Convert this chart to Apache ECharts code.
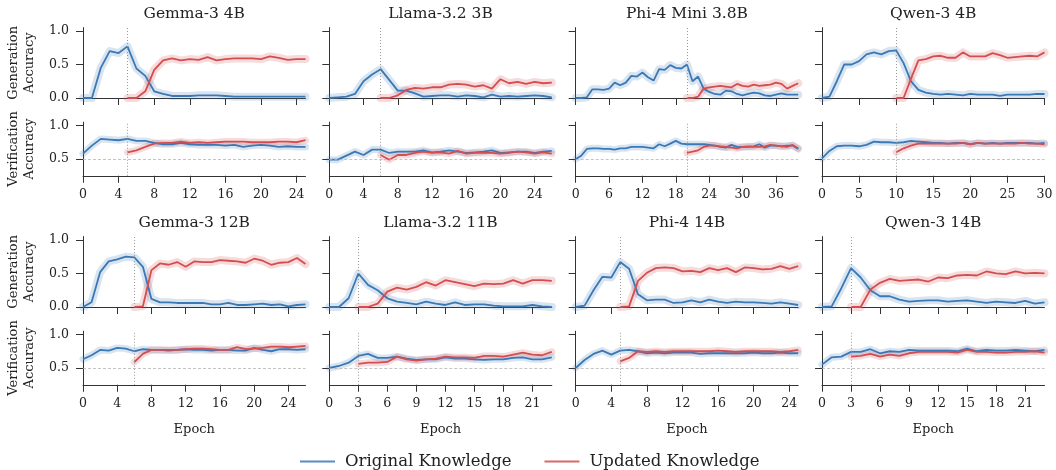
<!DOCTYPE html>
<html><head><meta charset="utf-8">
<script src="https://cdn.jsdelivr.net/npm/echarts@6/dist/echarts.min.js"></script>
<style>html,body{margin:0;padding:0;background:#fff}#c{width:1056px;height:470px}</style>
</head><body><div id="c"></div>
<script>
// ---------------- data ----------------
const panelTitles = ['Gemma-3 4B','Llama-3.2 3B','Phi-4 Mini 3.8B','Qwen-3 4B','Gemma-3 12B','Llama-3.2 11B','Phi-4 14B','Qwen-3 14B'];
const xMax = [25, 26, 40, 30, 26, 23, 25, 23];
const xInterval = [4, 4, 6, 5, 4, 3, 4, 3];
const switchEpoch = [5, 6, 20, 10, 6, 3, 5, 3];
const xTicks = [
  [0,4,8,12,16,20,24],
  [0,4,8,12,16,20,24],
  [0,6,12,18,24,30,36],
  [0,5,10,15,20,25,30],
  [0,4,8,12,16,20,24],
  [0,3,6,9,12,15,18,21],
  [0,4,8,12,16,20,24],
  [0,3,6,9,12,15,18,21]
];
const genYTicks = [0, 0.5, 1.0];
const verYTicks = [0.5, 1.0];
const chanceLevel = 0.5;

// Gemma-3 4B
const gemma4bGenOrig = [0,0,0.45,0.70,0.67,0.77,0.44,0.33,0.10,0.06,0.03,0.03,0.03,0.04,0.04,0.04,0.03,0.02,0.02,0.02,0.02,0.02,0.02,0.02,0.02,0.02];
const gemma4bGenUpd  = [0,0,0.10,0.42,0.56,0.59,0.56,0.58,0.57,0.61,0.56,0.58,0.59,0.59,0.59,0.58,0.62,0.60,0.57,0.58,0.58];
const gemma4bVerOrig = [0.58,0.70,0.80,0.79,0.78,0.80,0.77,0.77,0.74,0.72,0.72,0.74,0.72,0.71,0.71,0.71,0.70,0.71,0.68,0.70,0.71,0.70,0.68,0.69,0.68,0.68];
const gemma4bVerUpd  = [0.60,0.63,0.68,0.73,0.74,0.74,0.76,0.74,0.75,0.74,0.75,0.76,0.76,0.76,0.75,0.75,0.75,0.76,0.76,0.75,0.78];
// Llama-3.2 3B
const llama3bGenOrig = [0,0.01,0.02,0.06,0.25,0.35,0.43,0.27,0.11,0.11,0.07,0.02,0.03,0.04,0.04,0.02,0.04,0.03,0.01,0.05,0.02,0.03,0.02,0.03,0.04,0.03,0.01];
const llama3bGenUpd  = [0,0,0.04,0.12,0.15,0.14,0.16,0.16,0.20,0.21,0.20,0.17,0.19,0.14,0.28,0.22,0.24,0.21,0.24,0.22,0.23];
const llama3bVerOrig = [0.49,0.49,0.55,0.61,0.56,0.64,0.64,0.59,0.61,0.61,0.61,0.63,0.60,0.61,0.63,0.61,0.59,0.60,0.61,0.63,0.59,0.60,0.61,0.61,0.59,0.61,0.62];
const llama3bVerUpd  = [0.56,0.49,0.56,0.56,0.59,0.61,0.59,0.60,0.58,0.62,0.58,0.59,0.59,0.59,0.58,0.59,0.61,0.60,0.58,0.60,0.58];
// Phi-4 Mini 3.8B
const phiMiniGenOrig = [0,0,0.01,0.13,0.13,0.12,0.14,0.23,0.19,0.23,0.33,0.32,0.38,0.31,0.26,0.43,0.42,0.49,0.45,0.44,0.50,0.25,0.32,0.14,0.09,0.06,0.05,0.11,0.10,0.06,0.04,0.06,0.08,0.07,0.04,0.03,0.05,0.07,0.05,0.05,0.05];
const phiMiniGenUpd  = [0,0,0.02,0.14,0.16,0.17,0.18,0.17,0.16,0.21,0.18,0.17,0.20,0.18,0.19,0.20,0.23,0.21,0.14,0.18,0.22];
const phiMiniVerOrig = [0.50,0.55,0.65,0.66,0.66,0.65,0.65,0.64,0.66,0.66,0.68,0.68,0.68,0.67,0.66,0.72,0.69,0.73,0.77,0.73,0.72,0.72,0.72,0.72,0.71,0.70,0.68,0.67,0.71,0.68,0.68,0.68,0.69,0.72,0.67,0.70,0.70,0.69,0.70,0.70,0.65];
const phiMiniVerUpd  = [0.59,0.61,0.63,0.68,0.70,0.70,0.69,0.68,0.67,0.66,0.68,0.69,0.68,0.68,0.69,0.71,0.70,0.69,0.68,0.71,0.66];
// Qwen-3 4B
const qwen4bGenOrig = [0,0.02,0.25,0.50,0.50,0.55,0.65,0.68,0.65,0.70,0.71,0.52,0.25,0.12,0.08,0.06,0.05,0.06,0.05,0.04,0.06,0.05,0.05,0.05,0.03,0.05,0.05,0.05,0.05,0.06,0.06];
const qwen4bGenUpd  = [0,0,0.29,0.56,0.58,0.62,0.63,0.60,0.60,0.68,0.62,0.62,0.62,0.67,0.64,0.60,0.61,0.62,0.63,0.62,0.68];
const qwen4bVerOrig = [0.51,0.62,0.69,0.70,0.70,0.69,0.71,0.76,0.75,0.75,0.74,0.75,0.77,0.76,0.75,0.74,0.74,0.73,0.74,0.74,0.72,0.74,0.73,0.74,0.73,0.74,0.74,0.74,0.74,0.73,0.74];
const qwen4bVerUpd  = [0.60,0.66,0.70,0.73,0.73,0.73,0.73,0.73,0.73,0.74,0.72,0.74,0.73,0.73,0.73,0.73,0.73,0.74,0.73,0.73,0.72];
// Gemma-3 12B
const gemma12bGenOrig = [0,0.07,0.52,0.68,0.71,0.75,0.74,0.60,0.12,0.07,0.07,0.06,0.06,0.06,0.06,0.04,0.04,0.06,0.03,0.03,0.04,0.05,0.03,0.04,0.01,0.03,0.04];
const gemma12bGenUpd  = [0,0.01,0.55,0.65,0.63,0.67,0.60,0.68,0.67,0.67,0.70,0.69,0.68,0.66,0.72,0.69,0.63,0.66,0.67,0.73,0.64];
const gemma12bVerOrig = [0.63,0.69,0.77,0.76,0.80,0.79,0.75,0.78,0.77,0.77,0.76,0.77,0.78,0.77,0.77,0.76,0.77,0.77,0.76,0.76,0.80,0.77,0.75,0.78,0.78,0.77,0.78];
const gemma12bVerUpd  = [0.59,0.71,0.77,0.77,0.77,0.77,0.78,0.79,0.79,0.78,0.77,0.77,0.81,0.78,0.79,0.80,0.82,0.82,0.81,0.82,0.83];
// Llama-3.2 11B
const llama11bGenOrig = [0,0,0.13,0.50,0.33,0.25,0.13,0.08,0.06,0.04,0.08,0.05,0.03,0.07,0.03,0.04,0.04,0.02,0.01,0.01,0.01,0.03,0.01,0.00];
const llama11bGenUpd  = [0,0,0.05,0.23,0.29,0.26,0.30,0.37,0.32,0.40,0.37,0.34,0.31,0.35,0.34,0.35,0.40,0.35,0.40,0.40,0.39];
const llama11bVerOrig = [0.50,0.53,0.58,0.68,0.71,0.65,0.65,0.67,0.64,0.62,0.63,0.63,0.66,0.64,0.64,0.63,0.62,0.63,0.63,0.65,0.66,0.63,0.63,0.66];
const llama11bVerUpd  = [0.56,0.58,0.58,0.59,0.67,0.63,0.61,0.63,0.64,0.67,0.66,0.66,0.65,0.68,0.68,0.67,0.70,0.73,0.70,0.69,0.74];
// Phi-4 14B
const phi14bGenOrig = [0,0.02,0.25,0.45,0.44,0.67,0.57,0.19,0.10,0.11,0.11,0.06,0.07,0.10,0.07,0.11,0.08,0.06,0.08,0.07,0.07,0.06,0.05,0.07,0.05,0.03];
const phi14bGenUpd  = [0,0.01,0.39,0.51,0.58,0.59,0.58,0.53,0.54,0.52,0.58,0.55,0.58,0.52,0.59,0.58,0.56,0.57,0.61,0.57,0.61];
const phi14bVerOrig = [0.50,0.62,0.71,0.76,0.70,0.76,0.77,0.75,0.72,0.73,0.72,0.73,0.73,0.73,0.71,0.72,0.72,0.72,0.72,0.72,0.73,0.72,0.72,0.73,0.72,0.72];
const phi14bVerUpd  = [0.60,0.65,0.75,0.74,0.75,0.74,0.75,0.75,0.75,0.75,0.75,0.76,0.75,0.74,0.75,0.75,0.75,0.75,0.74,0.75,0.77];
// Qwen-3 14B
const qwen14bGenOrig = [0,0.01,0.28,0.58,0.44,0.25,0.16,0.16,0.11,0.08,0.09,0.10,0.10,0.08,0.09,0.10,0.08,0.06,0.08,0.07,0.06,0.09,0.05,0.07];
const qwen14bGenUpd  = [0,0,0.26,0.36,0.42,0.39,0.40,0.41,0.38,0.44,0.43,0.47,0.48,0.47,0.53,0.50,0.49,0.53,0.50,0.51,0.50];
const qwen14bVerOrig = [0.55,0.66,0.67,0.74,0.74,0.78,0.72,0.75,0.74,0.77,0.76,0.76,0.76,0.76,0.75,0.79,0.75,0.77,0.76,0.76,0.77,0.76,0.75,0.77];
const qwen14bVerUpd  = [0.67,0.68,0.71,0.67,0.70,0.68,0.72,0.74,0.74,0.74,0.74,0.73,0.77,0.74,0.74,0.73,0.73,0.74,0.74,0.75,0.73];

const genOrig = [gemma4bGenOrig, llama3bGenOrig, phiMiniGenOrig, qwen4bGenOrig, gemma12bGenOrig, llama11bGenOrig, phi14bGenOrig, qwen14bGenOrig];
const genUpd  = [gemma4bGenUpd, llama3bGenUpd, phiMiniGenUpd, qwen4bGenUpd, gemma12bGenUpd, llama11bGenUpd, phi14bGenUpd, qwen14bGenUpd];
const verOrig = [gemma4bVerOrig, llama3bVerOrig, phiMiniVerOrig, qwen4bVerOrig, gemma12bVerOrig, llama11bVerOrig, phi14bVerOrig, qwen14bVerOrig];
const verUpd  = [gemma4bVerUpd, llama3bVerUpd, phiMiniVerUpd, qwen4bVerUpd, gemma12bVerUpd, llama11bVerUpd, phi14bVerUpd, qwen14bVerUpd];

// ---------------- layout / style ----------------
const FONT = 'DejaVu Serif';
const BLUE = '#3a78b6', RED = '#d44d4f', INK = '#222';
const colLeft = [83, 329.3, 575.7, 822];
const plotW = 222.5;
const genTop = [27.6, 236.6], genH = 70.4;
const verTop = [122.15, 331.15], verH = 53.6;

function pairs(vals, start) { return vals.map((v, i) => [start + i, v]); }

const grids = [], xAxes = [], yAxes = [], series = [], graphics = [];
for (let p = 0; p < 8; p++) {
  const row = Math.floor(p / 4), col = p % 4;
  graphics.push({
    type: 'text', x: colLeft[col] + plotW / 2, y: row === 0 ? 14 : 223,
    style: { text: panelTitles[p], font: '15.5px "' + FONT + '"', fill: INK,
             align: 'center', verticalAlign: 'middle', textAlign: 'center', textVerticalAlign: 'middle' }
  });
  for (let k = 0; k < 2; k++) {
    const gi = grids.length;
    const isVer = k === 1;
    grids.push({ left: colLeft[col], top: isVer ? verTop[row] : genTop[row], width: plotW, height: isVer ? verH : genH });
    xAxes.push({
      gridIndex: gi, type: 'value', min: 0, max: xMax[p], interval: xInterval[p],
      axisLine: { show: true, onZero: false, lineStyle: { color: '#333', width: 1 } },
      axisTick: { show: true, length: 7, customValues: xTicks[p], lineStyle: { color: '#333', width: 1 } },
      axisLabel: { show: isVer, customValues: xTicks[p], margin: 12.5, fontSize: 12.5, color: INK, fontFamily: FONT },
      splitLine: { show: false },
      name: (isVer && row === 1) ? 'Epoch' : '', nameLocation: 'middle', nameGap: 38.5,
      nameTextStyle: { fontFamily: FONT, fontSize: 13, color: INK }
    });
    yAxes.push({
      gridIndex: gi, type: 'value', min: isVer ? 0.25 : 0, max: 1.05,
      axisLine: { show: true, lineStyle: { color: '#333', width: 1 } },
      axisTick: { show: true, length: 7, customValues: isVer ? verYTicks : genYTicks, lineStyle: { color: '#333', width: 1 } },
      axisLabel: { show: col === 0, customValues: isVer ? verYTicks : genYTicks, margin: 14, fontSize: 12.5, color: INK, fontFamily: FONT,
                   formatter: v => Number(v).toFixed(1) },
      splitLine: { show: false },
      name: col === 0 ? (isVer ? 'Verification\nAccuracy' : 'Generation\nAccuracy') : '',
      nameLocation: 'middle', nameRotate: 90, nameGap: 46,
      nameTextStyle: { fontFamily: FONT, fontSize: 13, color: INK, lineHeight: 15.5 }
    });
    const orig = isVer ? verOrig[p] : genOrig[p];
    const upd = isVer ? verUpd[p] : genUpd[p];
    const mlData = [{ xAxis: switchEpoch[p], lineStyle: { color: '#999', type: [1, 2], width: 1 } }];
    if (isVer) mlData.push({ yAxis: chanceLevel, lineStyle: { color: '#b5b5b5', type: [3, 2], width: 0.8 } });
    series.push({
      type: 'line', name: 'bandO', xAxisIndex: gi, yAxisIndex: gi, data: pairs(orig, 0), symbol: 'none', silent: true, z: 1,
      lineStyle: { color: BLUE, width: isVer ? 7 : 8, opacity: 0.2, cap: 'round', join: 'round' },
      markLine: { silent: true, symbol: ['none', 'none'], label: { show: false }, data: mlData, animation: false }
    });
    series.push({
      type: 'line', name: 'bandU', xAxisIndex: gi, yAxisIndex: gi, data: pairs(upd, switchEpoch[p]), symbol: 'none', silent: true, z: 1,
      lineStyle: { color: RED, width: isVer ? 7 : 8, opacity: 0.2, cap: 'round', join: 'round' }
    });
    series.push({
      type: 'line', name: 'Original Knowledge', xAxisIndex: gi, yAxisIndex: gi, data: pairs(orig, 0), symbol: 'none', z: 3,
      itemStyle: { color: BLUE }, lineStyle: { color: BLUE, width: 1.8 }
    });
    series.push({
      type: 'line', name: 'Updated Knowledge', xAxisIndex: gi, yAxisIndex: gi, data: pairs(upd, switchEpoch[p]), symbol: 'none', z: 3,
      itemStyle: { color: RED }, lineStyle: { color: RED, width: 1.8 }
    });
  }
}

const option = {
  animation: false,
  backgroundColor: '#fff',
  textStyle: { fontFamily: FONT },
  grid: grids, xAxis: xAxes, yAxis: yAxes, series: series,
  graphic: graphics,
  legend: {
    data: [
      { name: 'Original Knowledge', icon: 'rect', itemStyle: { color: BLUE, opacity: 0.85 } },
      { name: 'Updated Knowledge', icon: 'rect', itemStyle: { color: RED, opacity: 0.85 } }
    ],
    left: 300, top: 453, padding: 0, itemWidth: 35, itemHeight: 2, itemGap: 33,
    textStyle: { fontFamily: FONT, fontSize: 16.5, color: INK, padding: [0, 0, 0, 5] }
  }
};
const chart = echarts.init(document.getElementById('c'), null, { renderer: 'canvas' });
chart.setOption(option);
</script></body></html>
